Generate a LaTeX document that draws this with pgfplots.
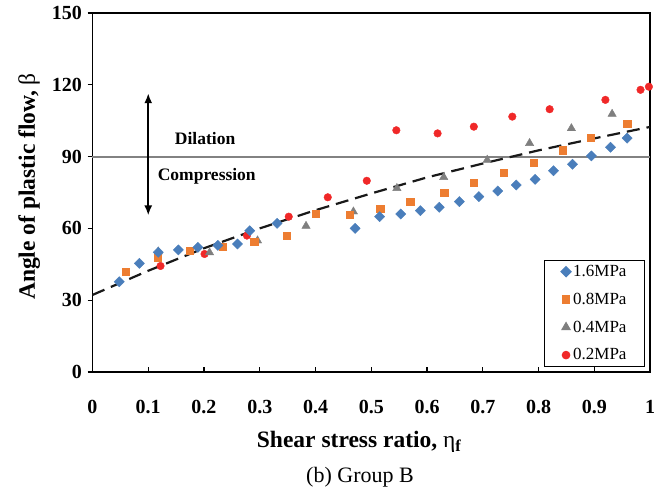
\documentclass[border=0pt]{standalone}
\usepackage{fontspec}
\setmainfont{Liberation Serif}
\usepackage{pgfplots}
\pgfplotsset{compat=1.18}
\usetikzlibrary{arrows.meta}
\definecolor{cblue}{RGB}{74,126,187}
\definecolor{corange}{RGB}{237,125,49}
\definecolor{cgray}{RGB}{127,127,127}
\definecolor{cred}{RGB}{240,40,40}
\definecolor{cline}{RGB}{130,130,130}
\begin{document}
\begin{tikzpicture}
\path[use as bounding box] (0pt,0pt) rectangle (670pt,492pt);
\begin{axis}[
  at={(92.5pt,120pt)}, anchor=south west,
  width=557.5pt, height=359pt, scale only axis,
  xmin=0, xmax=1, ymin=0, ymax=150,
  xtick={0,0.1,0.2,0.3,0.4,0.5,0.6,0.7,0.8,0.9,1},
  xticklabels={0,0.1,0.2,0.3,0.4,0.5,0.6,0.7,0.8,0.9,1},
  ytick={0,30,60,90,120,150},
  xtick pos=bottom, ytick pos=left,
  xtick align=inside, ytick align=outside,
  major tick length=5pt,
  tick style={black, line width=1.2pt},
  axis line style={line width=1.6pt, black},
  /pgf/number format/assume math mode=true,
  tick label style={font=\fontsize{20}{24}\selectfont\bfseries},
  xticklabel style={yshift=-25pt},
  yticklabel style={xshift=-2pt},
  xlabel={\textbf{Shear stress ratio, }η\textsubscript{\textbf{f}}},
  ylabel={\textbf{Angle of plastic flow, }β},
  label style={font=\fontsize{23.5}{27}\selectfont},
  xlabel style={yshift=-10pt, xshift=-12pt},
  ylabel style={yshift=5pt, xshift=6pt},
  clip=false,
  reverse legend,
  legend cell align=left,
  legend style={at={(1,0)}, anchor=south east, xshift=-5pt, yshift=5pt,
    draw=black, line width=1pt, font=\fontsize{17}{20}\selectfont,
    row sep=11pt, inner xsep=16pt, inner ysep=3pt},
]
\addplot[cline, line width=2pt, forget plot] coordinates {(0,90) (1,90)};
\addplot[only marks, mark=*, mark size=3.8pt, draw=none, color=cred, mark options={draw=cred, fill=cred}] coordinates {
(0.122,44.3) (0.201,49.3) (0.277,57.0) (0.352,64.9) (0.422,73.0) (0.492,79.9)
(0.545,101.0) (0.619,99.7) (0.684,102.5) (0.753,106.7) (0.820,109.8)
(0.920,113.7) (0.983,117.9) (0.998,119.2)};
\addlegendentry{0.2MPa}
\addplot[only marks, mark=triangle*, mark size=4.8pt, color=cgray, mark options={draw=cgray, fill=cgray}] coordinates {
(0.118,50.3) (0.210,49.9) (0.296,54.9) (0.383,61.0) (0.468,67.0) (0.546,76.8)
(0.630,81.4) (0.708,88.6) (0.784,95.6) (0.859,101.8) (0.932,107.8)};
\addlegendentry{0.4MPa}
\addplot[only marks, mark=square*, mark size=3.6pt, color=corange, mark options={draw=corange, fill=corange}] coordinates {
(0.060,42.0) (0.117,47.8) (0.174,50.6) (0.233,52.4) (0.290,54.5) (0.349,56.8)
(0.401,66.3) (0.461,65.6) (0.516,68.2) (0.570,71.0) (0.631,74.9) (0.684,79.1)
(0.738,83.3) (0.791,87.6) (0.843,92.7) (0.893,97.9) (0.959,103.9)};
\addlegendentry{0.8MPa}
\addplot[only marks, mark=square*, mark size=3.6pt, color=cblue, mark options={draw=cblue, fill=cblue, rotate=45}] coordinates {
(0.048,37.7) (0.084,45.4) (0.118,50.0) (0.154,51.0) (0.189,52.1) (0.225,52.9)
(0.260,53.5) (0.282,59.0) (0.331,62.1) (0.471,60.0) (0.515,64.9) (0.553,66.0)
(0.588,67.4) (0.622,68.8) (0.658,71.2) (0.693,73.3) (0.727,75.6) (0.760,78.1)
(0.794,80.5) (0.827,84.1) (0.861,86.8) (0.895,90.3) (0.929,93.9) (0.959,97.7)};
\addlegendentry{1.6MPa}
\addplot[black!90, line width=2.2pt, dash pattern=on 13pt off 7pt, forget plot] coordinates {
(0,32.2) (0.1,42.3) (0.2,51.7) (0.3,60.0) (0.4,67.6) (0.5,74.6) (0.6,81.3)
(0.7,87.1) (0.8,92.6) (0.9,97.6) (1.0,102.4)};
\draw[{Latex[length=10pt,width=8pt]}-{Latex[length=10pt,width=8pt]}, line width=2pt] (axis cs:0.1,65.4) -- (axis cs:0.1,116.5);
\node[font=\fontsize{17.5}{20}\selectfont\bfseries] at (axis cs:0.202,97.4) {Dilation};
\node[font=\fontsize{17.5}{20}\selectfont\bfseries] at (axis cs:0.205,81.8) {Compression};
\end{axis}
\node[font=\fontsize{22}{26}\selectfont] at (360pt,15pt) {(b) Group B};
\end{tikzpicture}
\end{document}
